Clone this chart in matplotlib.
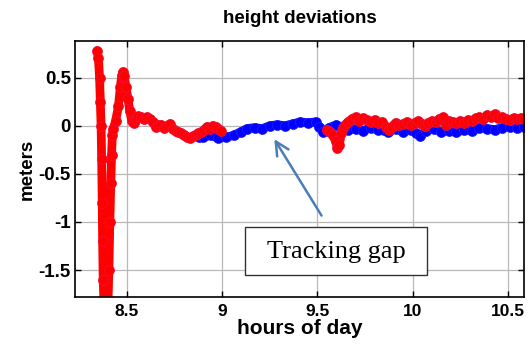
import matplotlib
matplotlib.use("Agg")
import matplotlib.pyplot as plt
from matplotlib.patches import Rectangle

plt.rcParams['font.family'] = ['Liberation Sans', 'DejaVu Sans']

# blue trace: height deviation, hours of day vs meters
blue_t = [8.86, 8.88, 8.90, 8.94, 8.98, 9.02, 9.06, 9.10, 9.13, 9.17, 9.21,
          9.25, 9.29, 9.33, 9.37, 9.41, 9.45, 9.49, 9.51, 9.53, 9.56, 9.60, 9.63,
          9.66, 9.70, 9.74, 9.78, 9.82, 9.87, 9.91, 9.95, 9.99, 10.02, 10.04, 10.07,
          10.11, 10.15, 10.19, 10.23, 10.27, 10.31, 10.35, 10.39, 10.43, 10.47,
          10.51, 10.55, 10.584]
blue_h = [-0.10, -0.12, -0.12, -0.10, -0.13, -0.12, -0.10, -0.06, -0.03, -0.02, -0.03,
          0.00, 0.01, 0.00, 0.02, 0.04, 0.03, 0.04, -0.01, -0.06, -0.02, 0.01, -0.02,
          -0.04, -0.03, -0.05, -0.02, -0.04, -0.07, -0.03, -0.06, -0.04, -0.08, -0.11, -0.05,
          -0.03, -0.06, -0.05, -0.07, -0.04, -0.05, -0.02, -0.03, -0.04, -0.02,
          -0.01, -0.02, -0.01]

# red trace, first tracked stretch (dips below the axis floor)
red1_t = [8.343, 8.350, 8.356, 8.360, 8.364, 8.367, 8.370, 8.372, 8.375, 8.380,
          8.390, 8.400, 8.405, 8.410, 8.415, 8.419, 8.423, 8.428, 8.440, 8.455,
          8.465, 8.472, 8.478, 8.485, 8.495, 8.505, 8.515, 8.525, 8.535, 8.545,
          8.560, 8.575, 8.590, 8.605, 8.620, 8.635, 8.650, 8.665, 8.680, 8.695,
          8.710, 8.725, 8.740, 8.755, 8.770, 8.785, 8.800, 8.815, 8.830, 8.845,
          8.860, 8.875, 8.890, 8.905, 8.920, 8.935, 8.950, 8.965, 8.980, 8.995]
red1_h = [0.78, 0.70, 0.50, 0.25, 0.00, -0.35, -0.80, -1.20, -1.60, -1.90,
          -1.95, -1.85, -1.50, -1.00, -0.60, -0.30, -0.10, -0.03, 0.05, 0.20,
          0.40, 0.52, 0.56, 0.52, 0.40, 0.28, 0.15, 0.05, 0.03, 0.07,
          0.10, 0.09, 0.07, 0.09, 0.07, 0.04, -0.01, 0.01, 0.01, -0.02,
          0.00, 0.02, -0.03, -0.05, -0.06, -0.08, -0.10, -0.12, -0.13, -0.11,
          -0.10, -0.08, -0.07, -0.04, -0.01, -0.03, 0.00, -0.01, -0.03, -0.05]

# red trace, after the tracking gap
red2_t = [9.550, 9.565, 9.580, 9.595, 9.605, 9.615, 9.625, 9.635, 9.645, 9.660,
          9.680, 9.700, 9.720, 9.740, 9.760, 9.780, 9.800, 9.820, 9.840, 9.860,
          9.875, 9.890, 9.910, 9.930, 9.950, 9.970, 9.990, 10.010, 10.030, 10.050,
          10.065, 10.080, 10.100, 10.120, 10.140, 10.160, 10.175, 10.190, 10.210,
          10.230, 10.250, 10.270, 10.290, 10.310, 10.330, 10.350, 10.370, 10.390,
          10.410, 10.430, 10.450, 10.470, 10.490, 10.510, 10.530, 10.550, 10.570,
          10.584]
red2_h = [-0.04, -0.06, -0.10, -0.16, -0.23, -0.20, -0.08, -0.02, 0.01, 0.04,
          0.07, 0.09, 0.05, 0.08, 0.06, 0.04, 0.06, 0.03, 0.04, -0.01,
          -0.04, -0.01, 0.03, 0.01, 0.02, 0.04, 0.01, 0.03, 0.05, 0.02,
          0.00, 0.03, 0.05, 0.04, 0.07, 0.09, 0.01, 0.05, 0.04, 0.03,
          0.05, 0.03, 0.06, 0.05, 0.08, 0.09, 0.07, 0.11, 0.09, 0.12,
          0.08, 0.09, 0.07, 0.06, 0.08, 0.07, 0.08, 0.07]

x_ticks = [8.5, 9, 9.5, 10, 10.5]
x_tick_labels = ['8.5', '9', '9.5', '10', '10.5']
y_ticks = [-1.5, -1, -0.5, 0, 0.5]
y_tick_labels = ['-1.5', '-1', '-0.5', '0', '0.5']

fig = plt.figure(figsize=(5.3, 3.45), dpi=100)
ax = fig.add_axes([0.1415, 0.139, 0.847, 0.742])

style = dict(linewidth=6.3, marker='o', markersize=7.2, markeredgewidth=0.5,
             solid_capstyle='round', solid_joinstyle='round')
ax.plot(blue_t, blue_h, color='#0000ff', markerfacecolor='#0000ff',
        markeredgecolor='#2020ff', **style)
ax.plot(red1_t, red1_h, color='#ff0000', markerfacecolor='#ff0000',
        markeredgecolor='#f01040', **style)
ax.plot(red2_t, red2_h, color='#ff0000', markerfacecolor='#ff0000',
        markeredgecolor='#f01040', **style)

ax.set_xlim(8.227, 10.584)
ax.set_ylim(-1.78, 0.88)
ax.set_xticks(x_ticks)
ax.set_xticklabels(x_tick_labels)
ax.set_yticks(y_ticks)
ax.set_yticklabels(y_tick_labels)
ax.tick_params(direction='in', top=True, right=True, length=4, width=1)
ax.tick_params(axis='x', labelsize=12.5, pad=5)
ax.tick_params(axis='y', labelsize=13.5, pad=3)
for lab in ax.get_xticklabels() + ax.get_yticklabels():
    lab.set_fontweight('bold')
ax.grid(True, color='#b8b8b8', linewidth=0.9)
ax.set_axisbelow(True)
for sp in ax.spines.values():
    sp.set_linewidth(1.2)

ax.set_title('height deviations', fontsize=13.5, fontweight='bold', pad=13)
ax.set_xlabel('hours of day', fontsize=15, fontweight='bold', labelpad=0)
ax.set_ylabel('meters', fontsize=13.5, fontweight='bold', labelpad=2)

# annotation pointing at the gap in red tracking
ax.annotate('', xy=(9.266, -0.115), xytext=(9.529, -0.958),
            arrowprops=dict(arrowstyle='->', color='#4a7ebb', lw=1.8,
                            mutation_scale=24))
ax.add_patch(Rectangle((9.119, -1.552), 0.956, 0.50, facecolor='white',
                       edgecolor='#333333', linewidth=1.0, zorder=5))
ax.text(9.597, -1.31, 'Tracking gap', family=['Liberation Serif', 'DejaVu Serif'],
        fontsize=19, ha='center', va='center', zorder=6)

fig.savefig('out.png', dpi=100)
